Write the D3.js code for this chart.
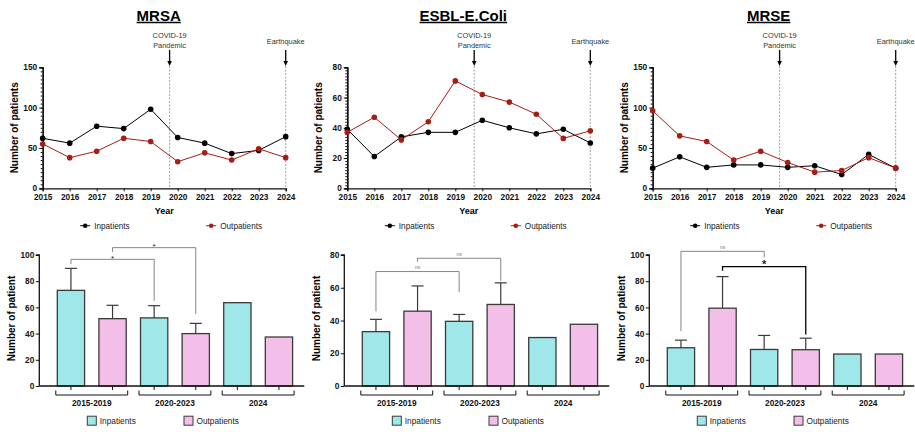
<!DOCTYPE html>
<html lang="en">
<head>
<meta charset="UTF-8">
<title>MRSA / ESBL-E.Coli / MRSE</title>
<script src="https://d3js.org/d3.v7.min.js"></script>
<style>
    body { margin: 0; background: #fff; }
    svg { display: block; font-family: 'Liberation Sans', Arial, sans-serif; }
</style>
</head>
<body>
<svg id="chart" width="915" height="432"></svg>
<script>
    // yearly counts (line charts)
    const years = [2015, 2016, 2017, 2018, 2019, 2020, 2021, 2022, 2023, 2024];
    const mrsaIn  = [62, 56, 77, 74, 98, 63, 56, 43, 47, 64];
    const mrsaOut = [55, 38, 46, 62, 58, 33, 44, 35, 49, 38];
    const esblIn  = [39, 21, 34, 37, 37, 45, 40, 36, 39, 30];
    const esblOut = [37, 47, 32, 44, 71, 62, 57, 49, 33, 38];
    const mrseIn  = [25, 39, 26, 29, 29, 26, 28, 17, 42, 25];
    const mrseOut = [96, 65, 58, 35, 46, 32, 20, 22, 38, 25];

    const eventYears  = [2019.7, 2024];
    const eventLabels = [["COVID-19", "Pandemic"], ["Earthquake"]];

    // period means (bar charts)
    const periods = ["2015-2019", "2020-2023", "2024"];
    const mrsaBarIn   = [73, 52, 63.6];
    const mrsaBarOut  = [51.4, 40, 37.4];
    const mrsaErrIn   = [89.8, 61.3, null];
    const mrsaErrOut  = [61.6, 47.8, null];
    const esblBarIn   = [33.2, 39.5, 29.6];
    const esblBarOut  = [45.7, 49.8, 37.7];
    const esblErrIn   = [40.7, 43.7, null];
    const esblErrOut  = [61.1, 63, null];
    const mrseBarIn   = [29.2, 27.9, 24.4];
    const mrseBarOut  = [59.4, 27.7, 24.4];
    const mrseErrIn   = [35, 38.6, null];
    const mrseErrOut  = [83.5, 36.5, null];

    // significance brackets: [from bar, to bar, top, left end, right end, label]
    const mrsaSig = [[0, 2, 96.7, 93, 65, "*"], [1, 3, 105.6, 102.3, 55, "*"]];
    const esblSig = [[0, 2, 69.9, 45.6, 57.3, "ns"], [1, 3, 78, 76, 64.2, "ns"]];
    const mrseSig = [[0, 2, 102.8, 41.9, 98.2, "ns"], [1, 3, 91.1, 88, 39.3, "*"]];

    const RED = "#a61d15", CYAN = "#a0e7ea", PINK = "#f3bfe9";
    const svg = d3.select("#chart");

    function styleAxis(sel) {
        sel.selectAll(".domain").attr("stroke", "#111").attr("stroke-width", 1.3);
        sel.selectAll(".tick line").attr("stroke", "#111").attr("stroke-width", 1);
        sel.selectAll(".tick text").attr("fill", "#111").attr("font-weight", "bold")
            .attr("font-size", "8.3px").attr("font-family", "'Liberation Sans', Arial, sans-serif");
    }

    function linePanel(ax, title, inVals, outVals, yMax, yStep, minorStep) {
        const top = 67.3, bottom = 188.3;
        const x = d3.scaleLinear().domain([2015, 2024]).range([ax, ax + 243]);
        const y = d3.scaleLinear().domain([0, yMax]).range([bottom, top]);
        const g = svg.append("g");

        // title
        const t = g.append("text").attr("x", ax + 116).attr("y", 20.5)
            .attr("text-anchor", "middle").attr("font-size", "15px").attr("font-weight", "bold")
            .text(title);
        const tw = t.node().getComputedTextLength();
        g.append("line").attr("x1", ax + 116 - tw / 2).attr("x2", ax + 116 + tw / 2)
            .attr("y1", 22.5).attr("y2", 22.5).attr("stroke", "#000").attr("stroke-width", 1.3);

        // event markers
        eventYears.forEach((ey, i) => {
            const ex = x(ey);
            g.append("line").attr("x1", ex).attr("x2", ex).attr("y1", 66).attr("y2", bottom)
                .attr("stroke", "#888").attr("stroke-width", 0.8).attr("stroke-dasharray", "2,1.5");
            g.append("line").attr("x1", ex).attr("x2", ex).attr("y1", 50).attr("y2", 62)
                .attr("stroke", "#000").attr("stroke-width", 1.3);
            g.append("path").attr("d", `M${ex - 2.3},61 L${ex + 2.3},61 L${ex},66 Z`).attr("fill", "#000");
            const lines = eventLabels[i];
            const y0 = lines.length === 2 ? 37.7 : 43.7;
            lines.forEach((l, j) => {
                g.append("text").attr("x", ex).attr("y", y0 + j * 10).attr("text-anchor", "middle")
                    .attr("font-size", "7.4px").attr("fill", "#333").text(l);
            });
        });

        // axes
        g.append("g").attr("transform", `translate(${ax},0)`)
            .call(d3.axisLeft(y).tickValues(d3.range(0, yMax + 0.001, minorStep)).tickSize(2).tickFormat(""))
            .call(styleAxis);
        g.append("g").attr("transform", `translate(${ax},0)`)
            .call(d3.axisLeft(y).tickValues(d3.range(0, yMax + 0.001, yStep)).tickSize(3.5).tickPadding(2))
            .call(styleAxis);
        g.append("g").attr("transform", `translate(0,${bottom})`)
            .call(d3.axisBottom(x).tickValues(years).tickFormat(d3.format("d")).tickSize(3).tickPadding(3))
            .call(styleAxis);

        g.append("text").attr("transform", `translate(${ax - 25},${(top + bottom) / 2}) rotate(-90)`)
            .attr("text-anchor", "middle").attr("font-size", "10px").attr("font-weight", "bold")
            .text("Number of patients");
        g.append("text").attr("x", ax + 121.5).attr("y", 214).attr("text-anchor", "middle")
            .attr("font-size", "9px").attr("font-weight", "bold").text("Year");

        // series
        const line = d3.line().x((d, i) => x(years[i])).y(d => y(d));
        [[inVals, "#000"], [outVals, RED]].forEach(([vals, col]) => {
            g.append("path").datum(vals).attr("d", line).attr("fill", "none")
                .attr("stroke", col).attr("stroke-width", 1);
            g.selectAll(null).data(vals).enter().append("circle")
                .attr("cx", (d, i) => x(years[i])).attr("cy", d => y(d)).attr("r", 2.8).attr("fill", col);
        });

        // legend
        [["Inpatients", "#000", 42.5], ["Outpatients", RED, 168.5]].forEach(([lab, col, off]) => {
            const lx = ax + off;
            g.append("line").attr("x1", lx - 5).attr("x2", lx + 5).attr("y1", 225.7).attr("y2", 225.7)
                .attr("stroke", col).attr("stroke-width", 1);
            g.append("circle").attr("cx", lx).attr("cy", 225.7).attr("r", 2.3).attr("fill", col);
            g.append("text").attr("x", lx + 9).attr("y", 228.6).attr("font-size", "8.2px")
                .attr("fill", "#222").text(lab);
        });
    }

    function barPanel(ax, inVals, outVals, errIn, errOut, yMax, sig, sigStrong) {
        const top = 255, bottom = 386;
        const keys = [];
        periods.forEach(p => { keys.push(p + "|in"); keys.push(p + "|out"); });
        const vals = [], errs = [];
        periods.forEach((p, i) => { vals.push(inVals[i], outVals[i]); errs.push(errIn[i], errOut[i]); });

        const x = d3.scaleBand().domain(keys).range([ax + 10.85, ax + 260.45])
            .paddingInner(0.344).paddingOuter(0.172);
        const y = d3.scaleLinear().domain([0, yMax]).range([bottom, top]);
        const bw = x.bandwidth();
        const g = svg.append("g");

        // bars
        g.selectAll(null).data(vals).enter().append("rect")
            .attr("x", (d, i) => x(keys[i])).attr("y", d => y(d))
            .attr("width", bw).attr("height", d => bottom - y(d))
            .attr("fill", (d, i) => i % 2 ? PINK : CYAN)
            .attr("stroke", "#3a3a3a").attr("stroke-width", 1.3);

        // error bars
        errs.forEach((e, i) => {
            if (e == null) return;
            const cx = x(keys[i]) + bw / 2;
            g.append("line").attr("x1", cx).attr("x2", cx).attr("y1", y(vals[i])).attr("y2", y(e))
                .attr("stroke", "#3a3a3a").attr("stroke-width", 1.2);
            g.append("line").attr("x1", cx - 6).attr("x2", cx + 6).attr("y1", y(e)).attr("y2", y(e))
                .attr("stroke", "#3a3a3a").attr("stroke-width", 1.2);
        });

        // axes
        const ya = g.append("g").attr("transform", `translate(${ax},0)`)
            .call(d3.axisLeft(y).ticks(5).tickSize(3.5).tickPadding(1.5));
        ya.call(styleAxis);
        ya.select(".domain").attr("d", `M-3.5,${top}H0V${bottom}`);
        g.append("line").attr("x1", ax).attr("x2", ax + 265).attr("y1", bottom).attr("y2", bottom)
            .attr("stroke", "#111").attr("stroke-width", 1.3);
        keys.forEach(k => {
            const cx = x(k) + bw / 2;
            g.append("line").attr("x1", cx).attr("x2", cx).attr("y1", bottom).attr("y2", bottom + 4)
                .attr("stroke", "#111").attr("stroke-width", 1);
        });
        periods.forEach((p, i) => {
            const l = x(keys[2 * i]) - 1.5, r = x(keys[2 * i + 1]) + bw + 1.5;
            g.append("path").attr("d", `M${l},390.5V395H${r}V390.5`).attr("fill", "none")
                .attr("stroke", "#111").attr("stroke-width", 1);
            g.append("text").attr("x", (l + r) / 2).attr("y", 405.5).attr("text-anchor", "middle")
                .attr("font-size", "8.3px").attr("font-weight", "bold").attr("fill", "#111").text(p);
        });

        g.append("text").attr("transform", `translate(${ax - 24},${(top + bottom) / 2 - 2}) rotate(-90)`)
            .attr("text-anchor", "middle").attr("font-size", "10px").attr("font-weight", "bold")
            .text("Number of patient");

        // significance brackets
        sig.forEach((s, k) => {
            const [a, b, yt, yl, yr, lab] = s;
            const xa = x(keys[a]) + bw / 2, xb = x(keys[b]) + bw / 2;
            const strong = sigStrong === k;
            g.append("path").attr("d", `M${xa},${y(yl)}V${y(yt)}H${xb}V${y(yr)}`).attr("fill", "none")
                .attr("stroke", strong ? "#000" : "#777").attr("stroke-width", strong ? 1.3 : 0.9);
            const isNs = lab === "ns";
            g.append("text").attr("x", (xa + xb) / 2)
                .attr("y", y(yt) + (isNs ? -2.5 : (strong ? 1 : 1.5)))
                .attr("text-anchor", "middle")
                .attr("font-size", isNs ? "5px" : (strong ? "11px" : "8px"))
                .attr("font-weight", strong ? "bold" : "normal")
                .attr("fill", isNs ? "#777" : "#222").text(lab);
        });

        // legend
        [["Inpatients", CYAN, 48], ["Outpatients", PINK, 144.7]].forEach(([lab, col, off]) => {
            g.append("rect").attr("x", ax + off).attr("y", 416.2).attr("width", 9).attr("height", 9)
                .attr("fill", col).attr("stroke", "#3a3a3a").attr("stroke-width", 1);
            g.append("text").attr("x", ax + off + 12.5).attr("y", 423.6).attr("font-size", "8.3px")
                .attr("fill", "#222").text(lab);
        });
    }

    linePanel(42.7, "MRSA", mrsaIn, mrsaOut, 150, 50, 5);
    linePanel(347.3, "ESBL-E.Coli", esblIn, esblOut, 80, 20, 2);
    linePanel(652.7, "MRSE", mrseIn, mrseOut, 150, 50, 5);

    barPanel(39.3, mrsaBarIn, mrsaBarOut, mrsaErrIn, mrsaErrOut, 100, mrsaSig, -1);
    barPanel(344.3, esblBarIn, esblBarOut, esblErrIn, esblErrOut, 80, esblSig, -1);
    barPanel(649.3, mrseBarIn, mrseBarOut, mrseErrIn, mrseErrOut, 100, mrseSig, 1);
</script>
</body>
</html>
